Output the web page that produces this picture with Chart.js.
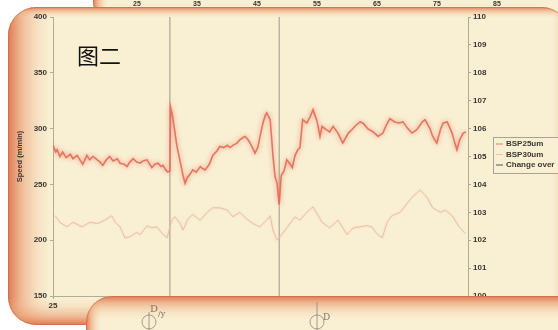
<!DOCTYPE html>
<html>
<head>
<meta charset="utf-8">
<script src="https://cdn.jsdelivr.net/npm/chart.js@4/dist/chart.umd.min.js"></script>
<style>
  html, body { margin: 0; padding: 0; background: #ffffff; }
  #wrap { width: 558px; height: 330px; position: relative; }
</style>
</head>
<body>
<div id="wrap"><canvas id="speedChart" width="558" height="330"></canvas></div>
<script>
// Line speed record around two change-overs (time vs. speed)
const bsp25Time = [25.0,25.4,25.6,26.0,26.4,26.9,27.5,27.9,28.5,28.9,29.3,29.9,30.3,30.8,31.4,31.8,32.2,32.7,33.2,33.7,34.3,34.7,35.3,35.7,36.1,36.6,37.1,37.6,38.0,38.6,39.0,39.3,39.7,40.2,40.6,40.9,41.3,41.6,41.9,42.0,42.2,42.5,42.9,43.4,43.8,44.1,44.4,44.8,45.2,45.7,46.3,46.7,47.0,47.6,48.1,48.7,49.1,49.7,50.2,50.6,51.0,51.6,52.0,52.5,52.8,53.2,53.5,53.9,54.2,54.6,55.1,55.4,55.7,55.9,56.4,56.8,57.1,57.4,57.7,58.0,58.4,58.8,59.3,59.6,60.0,60.4,60.7,61.1,61.7,62.2,62.6,63.2,63.6,63.9,64.5,65.0,65.5,66.2,66.9,67.7,68.2,68.8,69.4,69.8,70.5,71.3,72.0,72.7,73.1,73.7,74.4,75.0,75.6,76.3,76.9,77.6,78.4,78.8,79.5,79.9,80.5,81.0,81.4,82.0,82.7,83.1,83.4,83.8,84.3,84.7];
const bsp25Speed = [285,279,281,275,279,274,277,273,276,272,268,276,272,275,272,270,267,272,275,271,273,269,268,266,270,273,270,269,271,272,268,265,268,269,266,267,263,261,262,319,314,302,285,270,258,251,256,259,263,261,266,264,263,268,276,280,284,283,285,283,285,287,290,292,293,290,287,282,278,283,298,306,312,314,308,276,257,251,232,258,262,272,268,265,276,281,283,308,305,311,317,306,293,302,299,297,302,296,287,296,299,303,306,305,300,297,293,296,302,309,306,305,306,300,296,299,306,308,300,293,287,299,305,306,296,287,281,290,296,297];

const bsp30Time = [25.3,26.0,27.0,27.9,29.2,30.3,31.5,32.5,33.5,34.0,34.7,35.4,36.1,37.1,37.6,38.6,39.3,40.0,40.8,41.5,41.9,42.2,42.6,43.4,43.8,44.5,45.2,46.3,47.3,48.1,49.1,50.2,51.0,52.0,53.0,53.9,54.9,55.9,56.4,56.8,57.4,57.8,58.8,60.0,60.7,61.7,62.6,63.9,65.0,66.2,67.5,68.4,69.4,70.4,71.1,71.8,72.6,73.3,74.0,75.2,76.2,77.0,78.1,79.1,79.9,81.0,81.7,82.7,83.6,84.6];
const bsp30Speed = [222,216,212,216,212,216,215,218,222,216,212,202,203,207,205,213,211,212,206,202,212,218,221,215,209,219,223,218,225,229,229,227,221,225,219,215,212,218,222,209,200,203,211,221,218,225,230,216,211,218,205,211,212,213,212,206,202,216,222,225,233,239,245,238,229,225,227,222,213,206];

const changeOverTimes = [41.9, 57.7];

const seriesNames = ['BSP25um', 'BSP30um', 'Change over'];
const chartTitle = '图二';
const yAxisTitle = 'Speed (m/min)';
const upperPanelTicks = ['25', '35', '45', '55', '65', '75', '85'];

// colours
const CREAM = '#f9f0d3';
const AXIS = '#b3ab93';
const TEXT = '#3a3632';
const RED = 'rgba(226,108,88,0.9)';
const PALE = 'rgba(234,186,160,0.85)';
const GREY = '#9c9684';

const toPoints = (xs, ys) => xs.map((x, i) => ({ x, y: ys[i] }));
const changeOverPoints = [];
changeOverTimes.forEach((t, i) => {
  if (i > 0) changeOverPoints.push({ x: t - 0.01, y: null });
  changeOverPoints.push({ x: t, y: 150 }, { x: t, y: 400 });
});

// Rounded card with soft orange rims
function drawCard(ctx, x, y, w, h, r, edges) {
  ctx.save();
  ctx.beginPath();
  ctx.roundRect(x, y, w, h, r);
  ctx.clip();
  ctx.fillStyle = CREAM;
  ctx.fillRect(x, y, w, h);
  const rim = (x0, y0, x1, y1) => {
    const g = ctx.createLinearGradient(x0, y0, x1, y1);
    g.addColorStop(0, 'rgba(222,120,80,1)');
    g.addColorStop(0.3, 'rgba(232,148,105,0.6)');
    g.addColorStop(0.7, 'rgba(240,180,140,0.2)');
    g.addColorStop(1, 'rgba(245,200,160,0)');
    return g;
  };
  if (edges.left) { ctx.fillStyle = rim(x, 0, x + edges.left, 0); ctx.fillRect(x, y, edges.left, h); }
  if (edges.right) { ctx.fillStyle = rim(x + w, 0, x + w - edges.right, 0); ctx.fillRect(x + w - edges.right, y, edges.right, h); }
  if (edges.top) { ctx.fillStyle = rim(0, y, 0, y + edges.top); ctx.fillRect(x, y, w, edges.top); }
  if (edges.bottom) { ctx.fillStyle = rim(0, y + h, 0, y + h - edges.bottom); ctx.fillRect(x, y + h - edges.bottom, w, edges.bottom); }
  ctx.restore();
  ctx.save();
  ctx.beginPath();
  ctx.roundRect(x + 0.5, y + 0.5, w - 1, h - 1, r);
  ctx.strokeStyle = 'rgba(190,100,70,0.45)';
  ctx.lineWidth = 1;
  ctx.stroke();
  ctx.restore();
}

const backdrop = {
  id: 'backdrop',
  beforeDraw(chart) {
    const ctx = chart.ctx;
    ctx.save();
    ctx.fillStyle = '#ffffff';
    ctx.fillRect(0, 0, chart.width, chart.height);
    // upper panel peeking out above
    drawCard(ctx, 93, -40, 520, 60, 18, { left: 16 });
    ctx.fillStyle = TEXT;
    ctx.font = 'bold 7px "Liberation Sans"';
    ctx.textAlign = 'center';
    ctx.textBaseline = 'middle';
    upperPanelTicks.forEach((lbl, i) => ctx.fillText(lbl, 137 + i * 60, 4));
    // main panel
    drawCard(ctx, 8, 7, 562, 318, 28, { left: 44, top: 11, right: 18, bottom: 28 });
    ctx.restore();
  },
  afterDraw(chart) {
    const ctx = chart.ctx;
    ctx.save();
    // title
    ctx.fillStyle = '#111';
    ctx.font = '22px "Noto Sans CJK SC"';
    ctx.textAlign = 'left';
    ctx.textBaseline = 'alphabetic';
    ctx.fillText(chartTitle, 77, 64);

    // legend box
    const lx = 493, ly = 137, lw = 80, lh = 36;
    ctx.fillStyle = CREAM;
    ctx.fillRect(lx, ly, lw, lh);
    ctx.strokeStyle = '#a9a392';
    ctx.lineWidth = 1;
    ctx.strokeRect(lx + 0.5, ly + 0.5, lw, lh);
    ctx.font = 'bold 8px "Liberation Sans"';
    ctx.textBaseline = 'middle';
    chart.data.datasets.forEach((ds, i) => {
      const yy = ly + 7 + i * 10.5;
      ctx.strokeStyle = i === 2 ? '#555' : ds.borderColor;
      ctx.beginPath();
      ctx.moveTo(lx + 3, yy);
      ctx.lineTo(lx + 10, yy);
      ctx.stroke();
      ctx.fillStyle = TEXT;
      ctx.fillText(ds.label, lx + 13, yy);
    });

    // lower panel in front
    drawCard(ctx, 86, 296, 540, 80, 26, { left: 16, top: 24 });
    // emblem marks on the lower panel
    ctx.strokeStyle = '#8d8676';
    ctx.fillStyle = '#7d766a';
    ctx.lineWidth = 0.8;
    ctx.beginPath(); ctx.arc(149, 322, 7, 0, Math.PI * 2); ctx.stroke();
    ctx.beginPath(); ctx.moveTo(149, 312); ctx.lineTo(149, 330); ctx.stroke();
    ctx.font = '10px "DejaVu Serif"';
    ctx.fillText('D', 150, 309);
    ctx.font = '8px "DejaVu Serif"';
    ctx.fillText('/y', 158, 314);
    ctx.beginPath(); ctx.arc(317, 322, 7, 0, Math.PI * 2); ctx.stroke();
    ctx.beginPath(); ctx.moveTo(317, 302); ctx.lineTo(317, 330); ctx.stroke();
    ctx.font = '9px "DejaVu Serif"';
    ctx.fillText('D', 323, 318);
    ctx.restore();
  }
};

// soft glow on the speed traces
const glow = {
  id: 'glow',
  beforeDatasetDraw(chart, args) {
    const ctx = chart.ctx;
    ctx.save();
    if (args.index === 0) {
      ctx.shadowColor = 'rgba(238,130,110,1)';
      ctx.shadowBlur = 5;
    } else if (args.index === 1) {
      ctx.shadowColor = 'rgba(238,195,170,0.8)';
      ctx.shadowBlur = 2;
    }
  },
  afterDatasetDraw(chart) {
    chart.ctx.restore();
  }
};

const tickFont = { family: 'Liberation Sans', size: 8, weight: 'bold' };

new Chart(document.getElementById('speedChart'), {
  type: 'line',
  data: {
    datasets: [
      { label: seriesNames[0], data: toPoints(bsp25Time, bsp25Speed), borderColor: RED, borderWidth: 1.6, pointRadius: 0, tension: 0, yAxisID: 'y' },
      { label: seriesNames[1], data: toPoints(bsp30Time, bsp30Speed), borderColor: PALE, borderWidth: 1, pointRadius: 0, tension: 0, yAxisID: 'y' },
      { label: seriesNames[2], data: changeOverPoints, borderColor: GREY, borderWidth: 1, pointRadius: 0, spanGaps: false, yAxisID: 'y' }
    ]
  },
  options: {
    responsive: false,
    animation: false,
    events: [],
    layout: { padding: { top: 17, left: 0, right: 0, bottom: 0 } },
    plugins: { legend: { display: false }, tooltip: { enabled: false }, title: { display: false } },
    scales: {
      x: {
        type: 'linear', min: 25, max: 85, position: 'bottom',
        ticks: { stepSize: 10, color: TEXT, font: tickFont, padding: 2, maxRotation: 0, autoSkip: false },
        grid: { display: true, drawOnChartArea: false, tickLength: 3, color: AXIS },
        border: { color: AXIS, width: 1 },
        afterFit(s) { s.height = 34; }
      },
      y: {
        position: 'left', min: 150, max: 400,
        ticks: { stepSize: 50, color: TEXT, font: tickFont, padding: 3 },
        grid: { display: true, drawOnChartArea: false, tickLength: 3, color: AXIS },
        border: { color: AXIS, width: 1 },
        title: { display: true, text: yAxisTitle, color: TEXT, font: { family: 'Liberation Sans', size: 7.5, weight: 'bold' }, padding: { top: 15, bottom: 0 } },
        afterFit(s) { s.width = 53; }
      },
      y2: {
        position: 'right', min: 100, max: 110,
        ticks: { stepSize: 1, color: TEXT, font: tickFont, padding: 2 },
        grid: { display: true, drawOnChartArea: false, tickLength: 3, color: AXIS },
        border: { color: AXIS, width: 1 },
        afterFit(s) { s.width = 90; }
      }
    }
  },
  plugins: [backdrop, glow]
});
</script>
</body>
</html>
